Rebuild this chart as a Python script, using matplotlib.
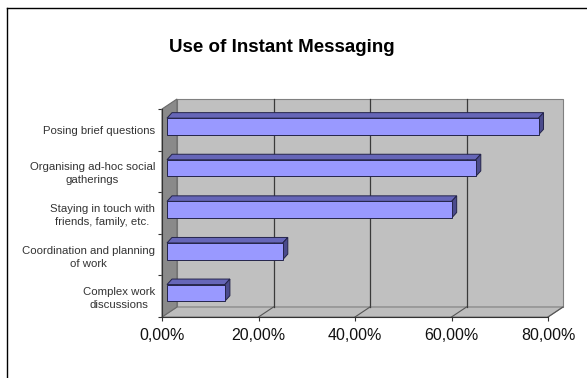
import matplotlib
matplotlib.use("Agg")
import matplotlib.pyplot as plt
from matplotlib.patches import Polygon
from matplotlib.lines import Line2D

plt.rcParams['font.family'] = ['Liberation Sans', 'DejaVu Sans']

# Data (top to bottom as shown)
categories = [
    "Posing brief questions",
    "Organising ad-hoc social\ngatherings",
    "Staying in touch with\nfriends, family, etc.",
    "Coordination and planning\nof work",
    "Complex work\ndiscussions",
]
values = [77.0, 64.0, 59.0, 24.0, 12.0]
xticks = [0, 20, 40, 60, 80]
xtick_labels = ["0,00%", "20,00%", "40,00%", "60,00%", "80,00%"]
title = "Use of Instant Messaging"

W, H = 587, 378
fig = plt.figure(figsize=(W / 100, H / 100), dpi=100)
fig.patch.set_facecolor("white")

# Front plane of the 3-D box (pixel layout)
left_px, right_px, top_px, bot_px = 162, 548, 109, 317
ax = fig.add_axes([left_px / W, (H - bot_px) / H,
                   (right_px - left_px) / W, (bot_px - top_px) / H])
ax.set_xlim(0, 80)
ax.set_ylim(len(categories) - 0.5, -0.5)
ax.patch.set_visible(False)

# data units per pixel
ux = 80 / (right_px - left_px)
uy = len(categories) / (bot_px - top_px)

# room depth (front -> back) in pixels
room_dx, room_dy = 15, 10


def dpt(x, y, d):
    """Point at depth fraction d (0 = front plane, 1 = back wall)."""
    return (x + d * room_dx * ux, y - d * room_dy * uy)


y0, y1 = -0.5, len(categories) - 0.5
x0, x1 = 0, 80
wall_gray = "#C0C0C0"
edge_gray = "#808080"

# back wall
ax.add_patch(Polygon([dpt(x0, y0, 1), dpt(x1, y0, 1), dpt(x1, y1, 1), dpt(x0, y1, 1)],
                     closed=True, facecolor=wall_gray, edgecolor=edge_gray,
                     linewidth=0.8, zorder=1, clip_on=False))
# floor
ax.add_patch(Polygon([dpt(x0, y1, 0), dpt(x1, y1, 0), dpt(x1, y1, 1), dpt(x0, y1, 1)],
                     closed=True, facecolor="#BDBDBD", edgecolor=edge_gray,
                     linewidth=0.8, zorder=1, clip_on=False))
# left side wall
ax.add_patch(Polygon([dpt(x0, y0, 0), dpt(x0, y1, 0), dpt(x0, y1, 1), dpt(x0, y0, 1)],
                     closed=True, facecolor="#8A8A8A", edgecolor="#6A6A6A",
                     linewidth=0.8, zorder=2, clip_on=False))

# gridlines on back wall and floor
for t in xticks[1:-1]:
    bx, by_top = dpt(t, y0, 1)
    _, by_bot = dpt(t, y1, 1)
    ax.add_line(Line2D([bx, bx], [by_top, by_bot], color="#3A3A3A",
                       linewidth=0.9, zorder=2, clip_on=False))
for t in xticks[1:]:
    fx, fy = dpt(t, y1, 0)
    bx, by = dpt(t, y1, 1)
    ax.add_line(Line2D([fx, bx], [fy, by], color="#555555",
                       linewidth=0.8, zorder=2, clip_on=False))

# bars: front face at 1/3 of the depth, bar depth in pixels
bar_d = 1 / 3
bar_dx, bar_dy = 5, 5.5
h = 0.4
face = "#9999FF"
top_col = "#6666B8"
side_col = "#4B4B8C"
edge = "#24244A"
ypos = list(range(len(categories)))
ox, oy = dpt(0, 0, bar_d)
ax.barh([y + oy for y in ypos], values, height=h, left=ox,
        color=face, edgecolor=edge, linewidth=0.7, zorder=5)
for y, v in zip(ypos, values):
    yt = y + oy - h / 2
    yb = y + oy + h / 2
    xs = ox
    xe = ox + v
    ddx, ddy = bar_dx * ux, bar_dy * uy
    ax.add_patch(Polygon([(xs, yt), (xe, yt), (xe + ddx, yt - ddy), (xs + ddx, yt - ddy)],
                         closed=True, facecolor=top_col, edgecolor=edge,
                         linewidth=0.7, zorder=4, clip_on=False))
    ax.add_patch(Polygon([(xe, yt), (xe, yb), (xe + ddx, yb - ddy), (xe + ddx, yt - ddy)],
                         closed=True, facecolor=side_col, edgecolor=edge,
                         linewidth=0.7, zorder=4, clip_on=False))

# axes lines and ticks
for s in ["top", "right"]:
    ax.spines[s].set_visible(False)
ax.spines["left"].set_color("#333333")
ax.spines["bottom"].set_color("#333333")
ax.spines["left"].set_linewidth(0.8)
ax.spines["bottom"].set_linewidth(0.8)
ax.spines["left"].set_zorder(3)
ax.spines["bottom"].set_zorder(3)

ax.set_xticks(xticks)
ax.set_xticklabels(xtick_labels, fontsize=11.5, color="#111111")
ax.tick_params(axis="x", direction="out", length=3, width=0.8,
               color="#333333", pad=5)

ax.set_yticks(ypos)
ax.set_yticklabels(categories, fontsize=8.2, color="#333333")
for lbl in ax.get_yticklabels():
    lbl.set_multialignment("center")
    lbl.set_linespacing(1.38)
ax.tick_params(axis="y", which="major", length=0, pad=5)
ax.set_yticks([y - 0.5 for y in ypos] + [ypos[-1] + 0.5], minor=True)
ax.tick_params(axis="y", which="minor", direction="out", length=3,
               width=0.8, color="#333333")

# title
fig.text(282 / W, 1 - 47.5 / H, title, ha="center", va="center",
         fontsize=13.5, fontweight="bold", color="black")

# chart frame
fig.add_artist(Line2D([7 / W, 1.0], [1 - 8 / H, 1 - 8 / H], transform=fig.transFigure,
                      color="black", linewidth=1.0))
fig.add_artist(Line2D([7 / W, 7 / W], [0, 1 - 8 / H], transform=fig.transFigure,
                      color="black", linewidth=1.0))

fig.savefig("out.png", dpi=100)
